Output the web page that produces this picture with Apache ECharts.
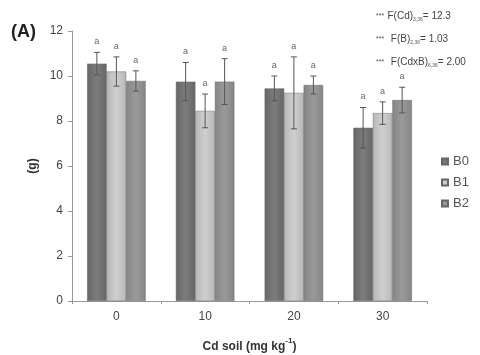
<!DOCTYPE html>
<html><head><meta charset="utf-8">
<script src="https://cdn.jsdelivr.net/npm/echarts@6/dist/echarts.min.js"></script>
<style>html,body{margin:0;padding:0;background:#fff}#c{width:480px;height:355px}</style>
</head><body><div id="c"></div>
<script>
const categories = ['0', '10', '20', '30'];
const seriesNames = ['B0', 'B1', 'B2'];
const b0 = [10.55, 9.75, 9.45, 7.7];
const b1 = [10.2, 8.45, 9.25, 8.35];
const b2 = [9.78, 9.75, 9.6, 8.93];
const b0err = [0.5, 0.85, 0.55, 0.9];
const b1err = [0.65, 0.75, 1.6, 0.5];
const b2err = [0.45, 1.02, 0.4, 0.57];
const letters = [['a','a','a','a'],['a','a','a','a'],['a','a','a','a']];
const yTicks = [0, 2, 4, 6, 8, 10, 12];

const values = [b0, b1, b2];
const errs = [b0err, b1err, b2err];
const colors = ['#666666', '#b8b8b8', '#858585'];
const lightTops = ['#7c7c7c', '#cfcfcf', '#9a9a9a'];

const chart = echarts.init(document.getElementById('c'));
const barW = 19.5;
const series = [];
values.forEach((vals, s) => {
  series.push({
    name: seriesNames[s], type: 'bar', data: vals, barWidth: barW, barGap: '0%',
    itemStyle: {
      color: new echarts.graphic.LinearGradient(0, 0, 1, 0, [
        {offset: 0, color: colors[s]}, {offset: 0.5, color: lightTops[s]}, {offset: 1, color: colors[s]}
      ]),
      borderColor: '#666', borderWidth: 0.5
    },
    z: 2
  });
});
values.forEach((vals, s) => {
  series.push({
    type: 'custom', name: 'err' + s, z: 5, silent: true,
    data: vals.map((v, i) => [i, v, errs[s][i]]),
    renderItem: function (params, api) {
      const i = api.value(0), v = api.value(1), e = api.value(2);
      const c = api.coord([i, v]);
      const offset = (s - 1) * barW;
      const x = c[0] + offset;
      const hi = api.coord([i, v + e])[1];
      const lo = api.coord([i, v - e])[1];
      const st = {stroke: '#555', lineWidth: 1};
      return {type: 'group', children: [
        {type: 'line', shape: {x1: x, y1: hi, x2: x, y2: lo}, style: st},
        {type: 'line', shape: {x1: x - 3, y1: hi, x2: x + 3, y2: hi}, style: st},
        {type: 'line', shape: {x1: x - 3, y1: lo, x2: x + 3, y2: lo}, style: st},
        {type: 'text', x: x, y: hi - 6, style: {text: letters[s][i], fill: '#666', font: '9px Arial', align: 'center', verticalAlign: 'bottom'}}
      ]};
    }
  });
});

chart.setOption({
  animation: false,
  backgroundColor: '#fff',
  grid: {left: 72, right: 53, top: 31, bottom: 54, outerBoundsMode: 'none', containLabel: false},
  legend: {
    data: seriesNames, orient: 'vertical', left: 436, top: 150, itemWidth: 6, itemHeight: 6, itemGap: 8,
    textStyle: {color: '#555', fontSize: 13, fontFamily: 'Arial'},
    icon: 'rect'
  },
  xAxis: {
    type: 'category', data: categories,
    axisLine: {lineStyle: {color: '#999'}},
    axisTick: {show: true, inside: false, length: 3, lineStyle: {color: '#999'}},
    axisLabel: {color: '#444', fontSize: 12, fontFamily: 'Arial', margin: 10},
    name: '{t|Cd soil (mg kg}{s|-1}{t|)}', nameLocation: 'middle', nameGap: 36,
    nameTextStyle: {rich: {
      t: {fontSize: 12, fontWeight: 'bold', color: '#333', fontFamily: 'Arial', verticalAlign: 'bottom'},
      s: {fontSize: 8, fontWeight: 'bold', color: '#333', fontFamily: 'Arial', verticalAlign: 'top', padding: [0, 0, 8, 0]}
    }}
  },
  yAxis: {
    type: 'value', min: 0, max: 12, interval: 2,
    axisLine: {show: true, lineStyle: {color: '#999'}},
    axisTick: {show: true, length: 4, lineStyle: {color: '#999'}},
    splitLine: {show: false},
    axisLabel: {color: '#444', fontSize: 12, fontFamily: 'Arial', margin: 9,
      formatter: v => yTicks.includes(v) ? String(v) : ''},
    name: '(g)', nameLocation: 'middle', nameGap: 28, nameRotate: 90,
    nameTextStyle: {fontSize: 12, fontWeight: 'bold', color: '#333', fontFamily: 'Arial'}
  },
  graphic: [
    {type: 'text', left: 11, top: 23, style: {text: '(A)', font: 'bold 18px Arial', fill: '#222'}},
    {type: 'text', left: 376, top: 10, style: {
      text: '{a|***} {b|F(Cd)}{c|3,36}{b|= 12.3}',
      rich: {a: {fontSize: 7, fill: '#555'}, b: {fontSize: 10, fill: '#444', fontFamily: 'Arial'}, c: {fontSize: 5, fill: '#555', verticalAlign: 'bottom', padding: [4,0,0,0]}}
    }},
    {type: 'text', left: 376, top: 33, style: {
      text: '{a|***}  {b|F(B)}{c|2,36}{b|= 1.03}',
      rich: {a: {fontSize: 7, fill: '#555'}, b: {fontSize: 10, fill: '#444', fontFamily: 'Arial'}, c: {fontSize: 5, fill: '#555', verticalAlign: 'bottom', padding: [4,0,0,0]}}
    }},
    {type: 'text', left: 376, top: 56, style: {
      text: '{a|***}  {b|F(CdxB)}{c|6,36}{b|= 2.00}',
      rich: {a: {fontSize: 7, fill: '#555'}, b: {fontSize: 10, fill: '#444', fontFamily: 'Arial'}, c: {fontSize: 5, fill: '#555', verticalAlign: 'bottom', padding: [4,0,0,0]}}
    }}
  ],
  series: series
});
</script></body></html>
